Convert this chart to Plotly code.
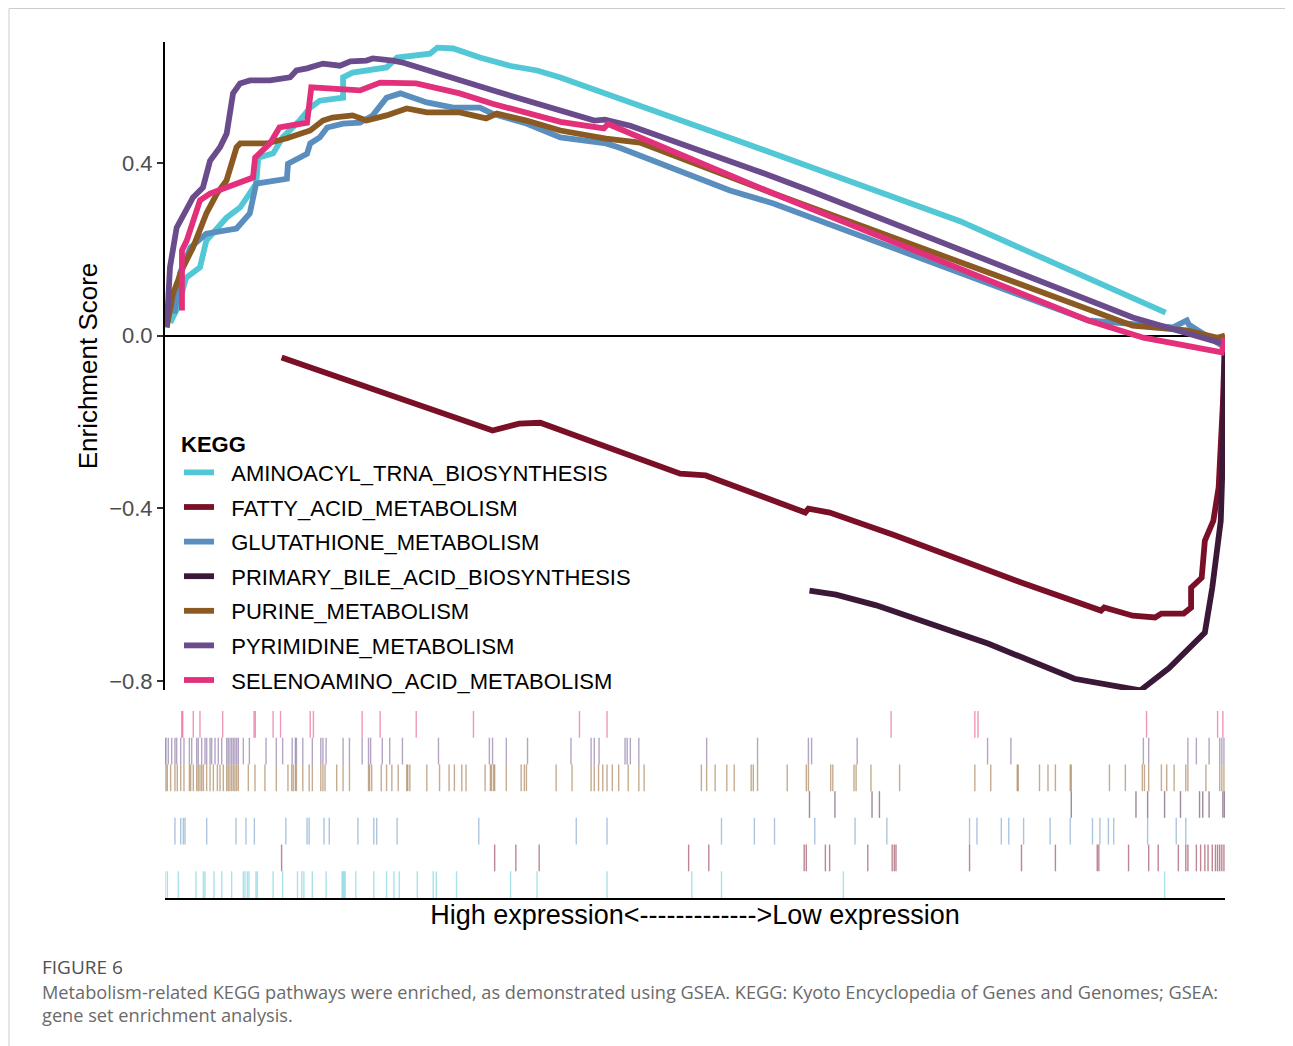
import plotly.graph_objects as go

# ---------------- data ----------------
pathways = ["AMINOACYL_TRNA_BIOSYNTHESIS", "FATTY_ACID_METABOLISM", "GLUTATHIONE_METABOLISM",
            "PRIMARY_BILE_ACID_BIOSYNTHESIS", "PURINE_METABOLISM", "PYRIMIDINE_METABOLISM",
            "SELENOAMINO_ACID_METABOLISM"]
colors = ["#52C7D6", "#7A1027", "#5A8EBF", "#3C1838", "#8B5A22", "#6A4B8C", "#E2307A"]

# running enrichment score curves (x = position in ranked gene list, %)
amino_x = [0.5, 1.2, 2.0, 3.3, 3.9, 4.9, 5.8, 7.1, 8.0, 8.6, 8.8, 10.2, 11.1, 12.7, 13.7, 14.6, 16.8, 16.8,
           17.7, 20.9, 21.9, 25.0, 25.7, 27.2, 29.7, 32.5, 35.1, 37.3, 53.2, 75.0, 94.4]
amino_y = [0.03, 0.065, 0.134, 0.158, 0.22, 0.25, 0.273, 0.297, 0.329, 0.352, 0.412, 0.422, 0.459, 0.498, 0.528,
           0.544, 0.551, 0.598, 0.609, 0.621, 0.644, 0.653, 0.667, 0.665, 0.644, 0.625, 0.614, 0.598, 0.459,
           0.265, 0.053]

fatty_x = [11.0, 30.9, 33.4, 35.4, 48.6, 51.0, 60.4, 60.7, 62.7, 68.9, 81.1, 88.3, 88.6, 91.3, 93.4, 94.0,
           96.1, 96.8, 96.8, 97.8, 98.1, 98.9, 99.4, 99.6, 99.8, 100.0]
fatty_y = [-0.051, -0.220, -0.204, -0.202, -0.320, -0.324, -0.410, -0.401, -0.410, -0.463, -0.575, -0.637,
           -0.630, -0.649, -0.653, -0.644, -0.644, -0.630, -0.584, -0.561, -0.475, -0.429, -0.352, -0.259,
           -0.158, -0.005]

gluta_x = [0.9, 1.4, 2.4, 3.9, 6.75, 8.0, 8.6, 11.5, 11.6, 13.4, 13.7, 14.6, 15.3, 16.8, 18.4, 19.6, 20.9,
           22.2, 24.7, 27.2, 29.7, 30.9, 34.1, 37.3, 41.6, 42.9, 53.3, 57.4, 87.1, 95.1, 96.4, 96.6, 99.7, 100.0]
gluta_y = [0.051, 0.144, 0.204, 0.236, 0.248, 0.283, 0.352, 0.363, 0.398, 0.421, 0.445, 0.459, 0.482, 0.491,
           0.493, 0.510, 0.551, 0.561, 0.540, 0.528, 0.528, 0.514, 0.491, 0.459, 0.445, 0.435, 0.336, 0.306,
           0.035, 0.019, 0.035, 0.025, -0.023, 0.0]

bile_x = [60.8, 63.3, 67.1, 77.7, 85.8, 92.0, 94.7, 98.1, 98.8, 99.6, 99.8, 100.0]
bile_y = [-0.591, -0.600, -0.625, -0.714, -0.795, -0.822, -0.771, -0.688, -0.584, -0.429, -0.273, -0.012]

purine_x = [0.16, 0.75, 1.7, 2.64, 3.9, 4.9, 5.8, 6.75, 7.1, 9.6, 11.5, 13.7, 14.9, 15.8, 17.7, 19.0, 20.9,
            22.8, 24.7, 27.8, 30.3, 31.3, 34.1, 37.3, 41.6, 44.8, 57.4, 91.3, 96.4, 99.3, 100.0]
purine_y = [0.019, 0.097, 0.158, 0.204, 0.283, 0.329, 0.359, 0.436, 0.445, 0.445, 0.457, 0.475, 0.498, 0.505,
            0.510, 0.498, 0.510, 0.526, 0.517, 0.517, 0.503, 0.514, 0.498, 0.475, 0.456, 0.447, 0.329, 0.023,
            0.012, -0.005, 0.0]

pyrim_x = [0.16, 0.47, 1.1, 2.05, 2.64, 3.58, 4.25, 5.19, 5.82, 6.42, 7.08, 8.02, 9.9, 11.8, 12.4, 13.4, 14.9,
           16.5, 17.5, 19.0, 19.6, 21.5, 22.5, 30.9, 36.3, 40.5, 41.5, 43.9, 55.8, 60.8, 91.3, 95.6, 99.7, 100.0]
pyrim_y = [0.019, 0.158, 0.25, 0.297, 0.32, 0.343, 0.405, 0.436, 0.468, 0.561, 0.584, 0.591, 0.591, 0.598,
           0.614, 0.619, 0.630, 0.625, 0.635, 0.637, 0.642, 0.637, 0.632, 0.568, 0.530, 0.498, 0.500, 0.486,
           0.382, 0.336, 0.042, 0.012, -0.016, -0.02]

seleno_x = [1.6, 1.6, 2.05, 2.64, 3.3, 4.25, 5.8, 8.3, 8.5, 9.9, 10.8, 13.4, 13.8, 18.4, 20.3, 23.7, 27.8,
            30.9, 37.3, 41.4, 41.8, 57.4, 87.1, 92.3, 99.7, 100.0]
seleno_y = [0.058, 0.197, 0.22, 0.266, 0.313, 0.329, 0.343, 0.366, 0.412, 0.445, 0.482, 0.493, 0.575, 0.568,
            0.586, 0.584, 0.561, 0.537, 0.495, 0.480, 0.490, 0.329, 0.035, -0.005, -0.039, -0.005]

# gene-set hit positions (rug)
amino_hits = [0.0, 0.22, 1.26, 2.92, 3.62, 3.77, 4.62, 5.35, 6.29, 7.39, 7.55, 7.77, 7.92, 8.58, 8.71, 10.2,
              11.1, 12.5, 12.9, 13.1, 13.9, 15.2, 16.7, 16.8, 16.9, 17.0, 18.0, 19.7, 20.9, 21.6, 22.1, 23.8,
              25.3, 25.6, 27.5, 32.6, 35.1, 41.7, 49.7, 52.5, 64.0, 94.3]
fatty_hits = [11.0, 31.1, 33.1, 35.3, 49.4, 51.3, 60.3, 60.5, 62.3, 62.7, 66.3, 68.6, 68.8, 68.96, 75.9, 80.8,
              84.0, 87.95, 88.1, 90.9, 92.8, 93.7, 95.6, 96.3, 96.5, 97.3, 97.7, 98.1, 98.4, 98.8, 99.1, 99.3,
              99.5, 99.7, 99.9]
gluta_hits = [0.94, 1.48, 1.73, 1.89, 3.93, 6.70, 7.64, 8.43, 11.4, 13.4, 13.6, 15.0, 15.5, 18.2, 19.7, 19.97,
              21.9, 29.6, 38.8, 41.7, 52.5, 55.6, 57.5, 61.3, 65.1, 68.1, 75.9, 76.6, 78.9, 79.6, 81.0, 83.5,
              85.4, 87.5, 88.2, 89.0, 89.5, 92.7, 95.4, 96.3]
bile_hits = [60.8, 63.2, 66.7, 67.4, 85.5, 91.6, 92.7, 94.3, 95.8, 97.6, 97.9, 98.5, 99.8, 99.95]
purine_hits = [0.09, 0.22, 0.53, 0.94, 1.16, 1.48, 1.79, 2.30, 2.42, 2.67, 2.99, 3.14, 3.30, 3.46, 3.62, 3.93,
               4.25, 4.56, 4.94, 5.19, 5.50, 5.82, 5.97, 6.13, 6.29, 6.45, 6.60, 6.76, 6.92, 7.86, 8.49, 9.43,
               10.5, 11.6, 11.95, 12.1, 12.3, 12.4, 13.0, 13.6, 13.9, 14.7, 14.9, 15.1, 16.2, 16.8, 17.4, 19.2,
               19.3, 19.5, 20.4, 20.9, 21.4, 22.0, 22.8, 22.9, 23.1, 24.7, 25.9, 26.8, 27.3, 28.0, 28.4, 30.2,
               30.7, 30.8, 31.0, 31.1, 32.2, 33.6, 33.9, 34.1, 36.9, 38.4, 40.2, 40.5, 40.9, 41.3, 41.7, 42.2,
               42.8, 43.7, 44.7, 45.2, 50.6, 51.1, 51.9, 53.0, 53.7, 55.3, 55.5, 55.9, 58.7, 60.5, 60.7, 62.8,
               63.0, 65.0, 65.2, 66.6, 69.3, 76.4, 77.9, 80.4, 80.5, 82.5, 83.3, 84.0, 85.4, 85.5, 89.1, 90.6,
               92.2, 92.4, 92.8, 94.0, 94.5, 95.2, 96.3, 96.5, 98.2, 99.5, 99.7, 99.9]
pyrim_hits = [0.0, 0.09, 0.31, 0.63, 0.94, 1.10, 1.48, 1.79, 2.30, 2.52, 2.99, 3.14, 3.46, 3.77, 3.93, 4.25,
              4.40, 4.72, 5.03, 5.35, 5.82, 5.97, 6.13, 6.29, 6.45, 6.60, 6.76, 6.92, 7.39, 7.96, 9.53, 10.5,
              11.1, 12.0, 12.3, 12.4, 13.0, 13.9, 14.7, 14.9, 15.2, 16.8, 17.4, 18.6, 19.2, 19.4, 20.5, 21.2,
              22.4, 25.8, 30.6, 30.9, 32.2, 34.2, 38.3, 40.2, 40.5, 40.95, 43.4, 43.6, 43.9, 44.7, 51.1, 55.9,
              60.7, 61.0, 65.3, 77.6, 79.8, 92.3, 92.8, 96.5, 97.3, 98.5, 99.5, 99.7, 99.9]
seleno_hits = [1.58, 1.67, 2.67, 3.30, 5.44, 8.40, 8.52, 10.2, 10.9, 13.7, 14.0, 18.6, 20.3, 23.7, 29.1, 39.1,
               41.7, 68.5, 76.4, 76.7, 92.6, 99.3, 99.8]

curves = [(amino_x, amino_y), (fatty_x, fatty_y), (gluta_x, gluta_y), (bile_x, bile_y),
          (purine_x, purine_y), (pyrim_x, pyrim_y), (seleno_x, seleno_y)]
hits = [amino_hits, fatty_hits, gluta_hits, bile_hits, purine_hits, pyrim_hits, seleno_hits]
rug_rows = [0, 1, 2, 3, 4, 5, 6]  # bottom (aminoacyl) to top (selenoamino)

y_ticks = [0.4, 0.0, -0.4, -0.8]
y_tick_labels = ["0.4", "0.0", "\u22120.4", "\u22120.8"]
x_title = "High expression<------------->Low expression"

FONT = "Liberation Sans, Arial, sans-serif"


def hex_rgba(h, a):
    h = h.lstrip("#")
    return "rgba(%d,%d,%d,%.2f)" % (int(h[0:2], 16), int(h[2:4], 16), int(h[4:6], 16), a)


fig = go.Figure()

# ---- rug of gene-set hits ----
for name, col, hx, row in zip(pathways, colors, hits, rug_rows):
    xs, ys = [], []
    for h in hx:
        xs += [h, h, None]
        ys += [row, row + 1, None]
    fig.add_trace(go.Scatter(x=xs, y=ys, mode="lines", xaxis="x", yaxis="y2",
                             line=dict(color=hex_rgba(col, 0.5), width=1.4),
                             showlegend=False, hoverinfo="skip"))

# ---- running enrichment score ----
for i, (name, col, (cx, cy)) in enumerate(zip(pathways, colors, curves)):
    fig.add_trace(go.Scatter(x=cx, y=cy, mode="lines", name="\u00a0\u00a0" + name, xaxis="x", yaxis="y",
                             legendgroup="g%d" % i,
                             line=dict(color=col, width=5.8)))

# page offset: the html body adds an 8px margin around the figure
OFF = 8
PAGE_W, PAGE_H = 1293, 1046
W, H = PAGE_W - OFF, PAGE_H - OFF
plot_left, plot_right, plot_top, plot_bottom = 165, 1225, 42, 898   # page pixels
ml, mr = plot_left - OFF, PAGE_W - plot_right
mt, mb = plot_top - OFF, PAGE_H - plot_bottom
pw, ph = plot_right - plot_left, plot_bottom - plot_top


def px_x(p):
    return (p - plot_left) / pw


def px_y(p):
    return (plot_bottom - p) / ph


fig.update_layout(
    width=W, height=H,
    margin=dict(l=ml, r=mr, t=mt, b=mb),
    paper_bgcolor="white", plot_bgcolor="white",
    font=dict(family=FONT, color="black"),
    xaxis=dict(domain=[0, 1], range=[0, 100], anchor="y2", showgrid=False, zeroline=False,
               showticklabels=False, ticks="", showline=True, linecolor="black", linewidth=2,
               title=dict(text=x_title, font=dict(size=27, color="black", family=FONT), standoff=6)),
    yaxis=dict(domain=[px_y(690), 1], range=[-0.821, 0.680], anchor="x", showgrid=False,
               zeroline=True, zerolinecolor="black", zerolinewidth=2,
               showline=True, linecolor="black", linewidth=2,
               tickvals=y_ticks, ticktext=y_tick_labels, ticks="outside", ticklen=6,
               tickwidth=1.5, tickcolor="#333333",
               tickfont=dict(size=22, color="#4D4D4D", family=FONT),
               title=dict(text="Enrichment Score", font=dict(size=26, color="black", family=FONT),
                          standoff=4)),
    yaxis2=dict(domain=[0, px_y(711)], range=[0, 7], anchor="x", showgrid=False, zeroline=False,
                showticklabels=False, ticks="", showline=False),
    legend=dict(x=px_x(179), y=px_y(423), xanchor="left", yanchor="top",
                bgcolor="rgba(255,255,255,0)", tracegroupgap=3,
                font=dict(size=22, color="black", family=FONT),
                title=dict(text="<b>KEGG</b>", font=dict(size=22, color="black", family=FONT))),
    showlegend=True,
)

# figure frame and caption
fig.add_shape(type="rect", xref="paper", yref="paper",
              x0=px_x(9), x1=px_x(1291), y0=px_y(1060), y1=px_y(8.5),
              line=dict(color="#CCCCCC", width=1), fillcolor="rgba(0,0,0,0)", layer="below")

cap_font = "Open Sans, Noto Sans, sans-serif"
fig.add_annotation(xref="paper", yref="paper", x=px_x(40), y=px_y(967), xanchor="left", yanchor="middle",
                   text="FIGURE 6", showarrow=False, font=dict(size=19, color="#505050", family=cap_font))
fig.add_annotation(xref="paper", yref="paper", x=px_x(40), y=px_y(992), xanchor="left", yanchor="middle",
                   text="Metabolism-related KEGG pathways were enriched, as demonstrated using GSEA. KEGG: Kyoto "
                        "Encyclopedia of Genes and Genomes; GSEA:",
                   showarrow=False, font=dict(size=18.2, color="#6A6A6A", family=cap_font))
fig.add_annotation(xref="paper", yref="paper", x=px_x(40), y=px_y(1015), xanchor="left", yanchor="middle",
                   text="gene set enrichment analysis.", showarrow=False,
                   font=dict(size=18.2, color="#6A6A6A", family=cap_font))

fig.write_html("out.html")
